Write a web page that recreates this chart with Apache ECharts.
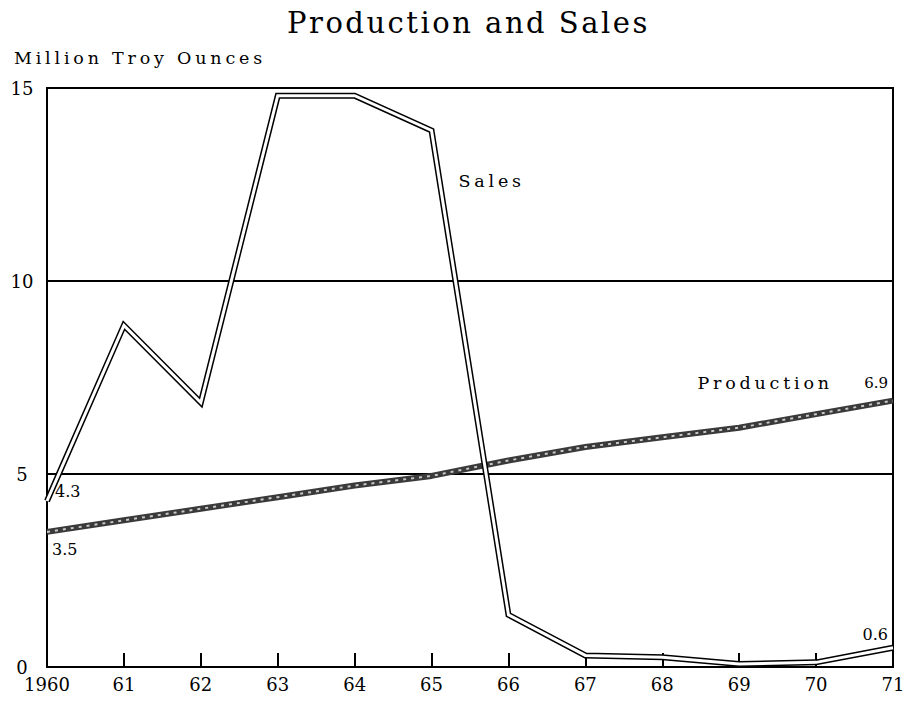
<!DOCTYPE html>
<html>
<head>
<meta charset="utf-8">
<script src="https://cdn.jsdelivr.net/npm/echarts@6/dist/echarts.min.js"></script>
<style>
  html, body { margin: 0; padding: 0; background: #fff; }
  #chart { width: 908px; height: 709px; }
  /* the original lettering is widely spaced */
  #chart text[style*="29px"] { letter-spacing: 2.5px; }
  #chart text[style*="17.5px"] { letter-spacing: 3.8px; }
</style>
</head>
<body>
<div id="chart"></div>
<script>
const years = ['1960', '61', '62', '63', '64', '65', '66', '67', '68', '69', '70', '71'];
const sales = [4.3, 8.85, 6.85, 14.8, 14.8, 13.9, 1.35, 0.3, 0.25, 0.08, 0.12, 0.5];
const production = [3.5, 3.8, 4.1, 4.4, 4.7, 4.95, 5.35, 5.7, 5.95, 6.2, 6.55, 6.9];

const serif = 'DejaVu Serif';

// a few points carry the text that sits next to them in the original
const salesLabels = {
  0: { text: '4.3', position: 'right', offset: [3, -10], size: 16 },
  5: { text: 'Sales', position: 'right', offset: [22, 51], size: 17.5 },
  11: { text: '0.6', position: 'left', offset: [0, -13], size: 16 }
};
const prodLabels = {
  0: { text: '3.5', position: 'right', offset: [0, 18], size: 16 },
  10: { text: 'Production', position: 'top', offset: [-51, -17], size: 17.5 },
  11: { text: '6.9', position: 'left', offset: [0, -18], size: 15 }
};

function withLabels(values, labels) {
  return values.map((v, i) => {
    const l = labels[i];
    if (!l) return v;
    return {
      value: v,
      label: {
        show: true,
        formatter: l.text,
        position: l.position,
        offset: l.offset,
        color: '#000',
        fontFamily: serif,
        fontSize: l.size
      }
    };
  });
}

const myChart = echarts.init(document.getElementById('chart'), null, { renderer: 'svg' });
myChart.setOption({
  animation: false,
  backgroundColor: '#fff',
  title: [
    {
      text: 'Production and Sales',
      left: 287,
      top: 8,
      padding: 0,
      textStyle: { fontFamily: serif, fontWeight: 'normal', fontSize: 29, color: '#000' }
    },
    {
      text: 'Million Troy Ounces',
      left: 14,
      top: 49,
      padding: 0,
      textStyle: { fontFamily: serif, fontWeight: 'normal', fontSize: 17.5, color: '#000' }
    }
  ],
  grid: {
    left: 47,
    right: 15,
    top: 88,
    bottom: 42,
    show: true,
    borderColor: '#000',
    borderWidth: 2
  },
  xAxis: {
    type: 'category',
    boundaryGap: false,
    data: years,
    axisLine: { lineStyle: { color: '#000', width: 2 } },
    axisTick: { inside: true, length: 14, lineStyle: { color: '#000', width: 2 } },
    axisLabel: { color: '#000', fontFamily: serif, fontSize: 18, margin: 8 }
  },
  yAxis: {
    type: 'value',
    min: 0,
    max: 15,
    interval: 5,
    axisLine: { show: true, lineStyle: { color: '#000', width: 2 } },
    axisTick: { show: false },
    axisLabel: { color: '#000', fontFamily: serif, fontSize: 18, margin: 25, align: 'center' },
    splitLine: { lineStyle: { color: '#000', width: 2 } }
  },
  series: [
    {
      name: 'Production',
      type: 'line',
      data: withLabels(production, prodLabels),
      symbol: 'circle',
      symbolSize: 0,
      showAllSymbol: true,
      lineStyle: { color: '#3a3a3a', width: 6 },
      z: 3
    },
    {
      name: 'Production texture',
      type: 'line',
      data: production,
      symbol: 'none',
      silent: true,
      lineStyle: { color: '#c8c8c8', width: 2, type: [3, 5] },
      z: 4
    },
    {
      name: 'Sales',
      type: 'line',
      data: withLabels(sales, salesLabels),
      symbol: 'circle',
      symbolSize: 0,
      showAllSymbol: true,
      lineStyle: { color: '#000', width: 6, join: 'miter' },
      z: 5
    },
    {
      name: 'Sales inner',
      type: 'line',
      data: sales,
      symbol: 'none',
      silent: true,
      lineStyle: { color: '#fff', width: 3, join: 'miter' },
      z: 6
    }
  ]
});
window.addEventListener('resize', () => {
  myChart.resize();
});
</script>
</body>
</html>
